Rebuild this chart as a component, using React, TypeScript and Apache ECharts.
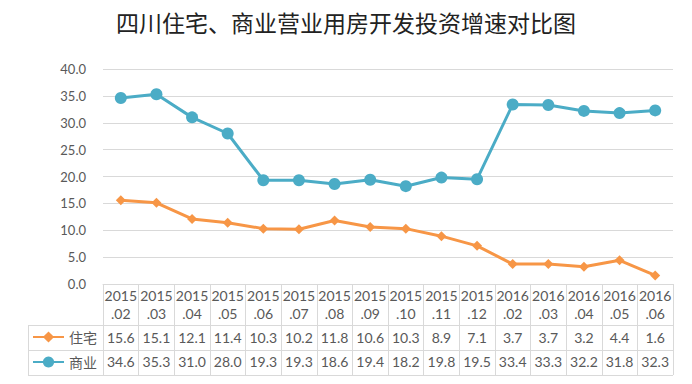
import React, { useEffect, useRef } from "react";
import * as echarts from "echarts";

const categories = ["2015.02","2015.03","2015.04","2015.05","2015.06","2015.07","2015.08","2015.09","2015.10","2015.11","2015.12","2016.02","2016.03","2016.04","2016.05","2016.06"];
const residential = [15.6,15.1,12.1,11.4,10.3,10.2,11.8,10.6,10.3,8.9,7.1,3.7,3.7,3.2,4.4,1.6];
const commercial = [34.6,35.3,31.0,28.0,19.3,19.3,18.6,19.4,18.2,19.8,19.5,33.4,33.3,32.2,31.8,32.3];
const seriesNames = ["住宅", "商业"];
const titleText = "四川住宅、商业营业用房开发投资增速对比图";

const FONT = "Lato, 'Noto Sans CJK SC', sans-serif";
const GREY = "#595959";
const LINE = "#d9d9d9";
const ORANGE = "#f79646";
const TEAL = "#4bacc6";

export default function App() {
  const ref = useRef<HTMLDivElement>(null);
  useEffect(() => {
    const chart = echarts.init(ref.current!, null, { renderer: "svg" });
    const L = 103, R = 673, T = 69, B = 284;
    const hdr = categories.map((c) => c.replace(".", "\n."));
    const tableAxis = (data: string[], margin: number) => ({
      type: "category",
      data,
      position: "bottom",
      boundaryGap: true,
      axisLine: { show: false },
      axisTick: { show: false },
      axisLabel: {
        interval: 0,
        margin,
        color: GREY,
        fontSize: 14,
        fontFamily: FONT,
      },
    });
    chart.setOption({
      animation: false,
      backgroundColor: "#fff",
      title: {
        text: titleText,
        left: "center",
        top: 10,
        padding: 0,
        textStyle: { fontSize: 23, fontWeight: "normal", color: "#222", fontFamily: "'Noto Sans CJK SC', sans-serif" },
      },
      legend: {
        orient: "vertical",
        left: 32,
        top: 329,
        padding: 0,
        itemGap: 9,
        itemWidth: 31,
        itemHeight: 14,
        textStyle: { color: GREY, fontSize: 14, lineHeight: 16, fontFamily: FONT },
        data: seriesNames,
      },
      grid: { left: L, right: 692 - R, top: T, bottom: 384 - B },
      xAxis: [
        {
          type: "category",
          data: hdr,
          position: "bottom",
          boundaryGap: true,
          axisLine: { show: true, lineStyle: { color: LINE, width: 1 } },
          axisTick: { show: true, interval: 0, length: 91, lineStyle: { color: LINE } },
          axisLabel: { interval: 0, margin: 2, lineHeight: 18, color: GREY, fontSize: 14, fontFamily: FONT },
        },
        tableAxis(residential.map((v) => v.toFixed(1)), 46),
        tableAxis(commercial.map((v) => v.toFixed(1)), 70),
      ],
      yAxis: {
        type: "value",
        min: 0,
        max: 40,
        interval: 5,
        axisLine: { show: false },
        axisTick: { show: false },
        splitLine: { lineStyle: { color: LINE } },
        axisLabel: { formatter: (v: number) => v.toFixed(1), color: GREY, fontSize: 13, margin: 17, fontFamily: FONT },
      },
      graphic: [
        { type: "line", shape: { x1: 28, y1: 325.5, x2: R, y2: 325.5 }, style: { stroke: LINE, lineWidth: 1 } },
        { type: "line", shape: { x1: 28, y1: 350.5, x2: R, y2: 350.5 }, style: { stroke: LINE, lineWidth: 1 } },
        { type: "line", shape: { x1: 28, y1: 375.5, x2: R, y2: 375.5 }, style: { stroke: LINE, lineWidth: 1 } },
        { type: "line", shape: { x1: 28.5, y1: 325, x2: 28.5, y2: 375 }, style: { stroke: LINE, lineWidth: 1 } },
      ],
      series: [
        {
          name: seriesNames[0],
          type: "line",
          data: residential,
          xAxisIndex: 0,
          symbol: "diamond",
          symbolSize: 10,
          lineStyle: { color: ORANGE, width: 3 },
          itemStyle: { color: ORANGE },
        },
        {
          name: seriesNames[1],
          type: "line",
          data: commercial,
          xAxisIndex: 0,
          symbol: "circle",
          symbolSize: 12,
          lineStyle: { color: TEAL, width: 3 },
          itemStyle: { color: TEAL },
        },
      ],
    });
    return () => chart.dispose();
  }, []);
  return <div ref={ref} style={{ width: 692, height: 384, position: "absolute", left: 0, top: 0 }} />;
}
